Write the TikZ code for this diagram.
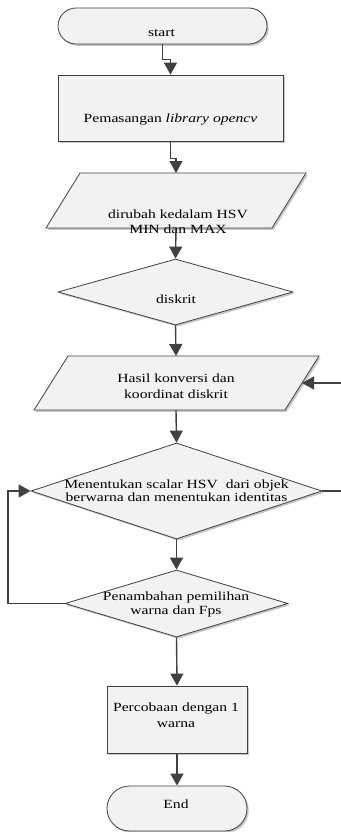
\documentclass[tikz,border=0pt]{standalone}
\usepackage{fontspec}
\setmainfont[FakeStretch=1.25]{Liberation Serif}
\usetikzlibrary{shapes.geometric,arrows.meta,shadows}
\definecolor{linec}{HTML}{404040}
\definecolor{shapefill}{HTML}{F2F2F2}
\begin{document}
\begin{tikzpicture}[x=1pt,y=-1pt,
  shp/.style={draw=linec, line width=0.8pt, fill=shapefill,
    drop shadow={shadow xshift=1.8pt, shadow yshift=-1.8pt, fill=black!22, opacity=1}},
  term/.style={shp, rectangle, inner sep=0pt},
  boxshape/.style={shp, rectangle, inner sep=0pt},
  dia/.style={shp, diamond, inner sep=0pt},
  txt/.style={font=\fontsize{12.5}{14}\selectfont, anchor=base, inner sep=0pt, align=center},
  conn/.style={draw=linec, line width=1.4pt, -{Triangle[length=12pt,width=13pt]}},
  plain/.style={draw=linec, line width=1.4pt}
]
\useasboundingbox (0,0) rectangle (340,832);

% shapes
\node[term, rounded corners=18pt, minimum width=209pt, minimum height=36pt] (start) at (162.5,26) {};
\node[boxshape, minimum width=225pt, minimum height=66pt] (rect1) at (170.5,108) {};
\draw[shp] (80,173) -- (306,173) -- (272,228) -- (46,228) -- cycle;
\coordinate (p1n) at (176,173);
\coordinate (p1s) at (176,228);
\node[dia, minimum width=235pt, minimum height=66pt] (d1) at (175.5,292) {};
\draw[shp] (68,356) -- (319,356) -- (285,410) -- (34,410) -- cycle;
\coordinate (p2n) at (176,356);
\coordinate (p2s) at (176,410);
\coordinate (p2e) at (302,383);
\node[dia, minimum width=291pt, minimum height=96pt] (d2) at (176.5,491) {};
\node[dia, minimum width=223pt, minimum height=67pt] (d3) at (176.5,603.5) {};
\node[boxshape, minimum width=140pt, minimum height=67pt] (rect2) at (177,719.5) {};
\node[term, rounded corners=22.5pt, minimum width=140pt, minimum height=45pt] (end) at (177,808.5) {};

% texts (base anchor = baseline of last line)
\node[txt] (tstart) at (161.5,37) {start};
\node[txt] (trect1) at (170.5,123) {Pemasangan \textit{library opencv}};
\node[txt, font=\fontsize{12.5}{15}\selectfont] (tp1) at (178,233) {dirubah kedalam HSV\\MIN dan MAX};
\node[txt] (td1) at (176,303) {diskrit};
\node[txt, font=\fontsize{12.5}{16}\selectfont] (tp2) at (176,398) {Hasil konversi dan\\koordinat diskrit};
\node[txt, font=\fontsize{12.5}{13}\selectfont] (td2) at (176.5,501) {Menentukan scalar HSV\ \ dari objek\\berwarna dan menentukan identitas};
\node[txt, font=\fontsize{12.5}{14}\selectfont] (td3) at (176,614) {Penambahan pemilihan\\warna dan Fps};
\node[txt, font=\fontsize{12.5}{16}\selectfont] (tr2) at (176,727) {Percobaan dengan 1\\warna};
\node[txt] (tend) at (176,808) {End};

% connectors
\draw[conn] (start.south) -- ++(0,15) -| (rect1.north);
\draw[conn] (rect1.south) -- ++(0,17) -| (p1n);
\draw[conn] (p1s) -- (d1.north);
\draw[conn] (d1.south) -- (p2n);
\draw[conn] (p2s) -- (d2.north);
\draw[conn] (d2.south) -- (d3.north);
\draw[conn] (d3.south) -- (rect2.north);
\draw[conn] (rect2.south) -- (end.north);
\coordinate (lx) at (8,491);
\draw[conn] (d3.west) -| (lx) -- (d2.west);
\coordinate (rx1) at (341,491);
\draw[plain] (d2.east) -- (rx1);
\coordinate (rx2) at (341,383);
\draw[conn] (rx2) -- (p2e);
\end{tikzpicture}
\end{document}
